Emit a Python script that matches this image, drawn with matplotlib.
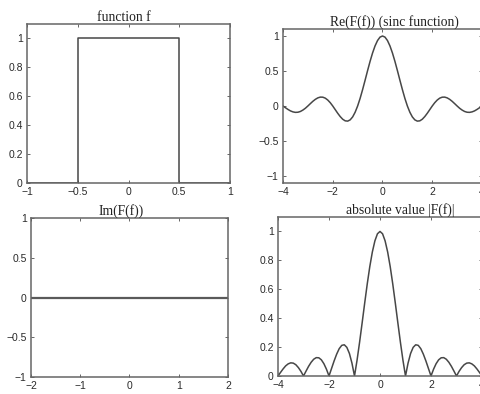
import numpy as np
import matplotlib.pyplot as plt

# rectangle function f
rect_x = [-1, -0.5, -0.5, 0.5, 0.5, 1]
rect_y = [0, 0, 1, 1, 0, 0]

# Re(F(f)), read at steps of 0.1 from -4 to 4
half = [1.000, 0.984, 0.935, 0.858, 0.757, 0.637, 0.505, 0.368, 0.234, 0.109,
        0.000, -0.089, -0.156, -0.198, -0.216, -0.212, -0.189, -0.151, -0.104, -0.052,
        0.000, 0.047, 0.085, 0.112, 0.126, 0.127, 0.116, 0.095, 0.067, 0.034,
        0.000, -0.032, -0.058, -0.078, -0.089, -0.091, -0.084, -0.070, -0.049, -0.025,
        0.000]
re_vals = half[:0:-1] + half
re_x = np.linspace(-4, 4, len(re_vals))

# Im(F(f))
im_x = [-2, 2]
im_y = [0, 0]

abs_vals = np.abs(re_vals)

fig = plt.figure(figsize=(4.81, 3.94), dpi=100)
W, H = 481.0, 394.0

def box(l, t, r, b):
    return [l / W, 1 - b / H, (r - l) / W, (b - t) / H]

line_c = '#474747'
edge_c = '#666666'

def style(ax, title, tx):
    t = ax.set_title(title, fontsize=9.8, family='Liberation Serif', pad=2, color='#222222')
    t.set_x(tx)
    ax.tick_params(direction='in', top=True, right=True, labelsize=7.5,
                   length=2.5, width=0.7, colors=edge_c, labelcolor='#2a2a2a', pad=3)
    for s in ax.spines.values():
        s.set_color(edge_c)
        s.set_linewidth(1.1)
    for lab in ax.get_xticklabels() + ax.get_yticklabels():
        lab.set_family('Liberation Sans')

ax1 = fig.add_axes(box(27, 24, 230, 183))
ax1.plot(rect_x, rect_y, color=line_c, lw=1.1)
ax1.set_xlim(-1, 1)
ax1.set_ylim(0, 1.1)
ax1.set_xticks([-1, -0.5, 0, 0.5, 1])
ax1.set_xticklabels(['\u22121', '\u22120.5', '0', '0.5', '1'])
ax1.set_yticks([0, 0.2, 0.4, 0.6, 0.8, 1])
ax1.set_yticklabels(['0', '0.2', '0.4', '0.6', '0.8', '1'])
style(ax1, 'function f', 0.475)

ax2 = fig.add_axes(box(283, 29, 482, 183))
ax2.plot(re_x, re_vals, color=line_c, lw=1.1)
ax2.set_xlim(-4, 4)
ax2.set_ylim(-1.1, 1.1)
ax2.set_xticks([-4, -2, 0, 2, 4])
ax2.set_xticklabels(['\u22124', '\u22122', '0', '2', '4'])
ax2.set_yticks([-1, -0.5, 0, 0.5, 1])
ax2.set_yticklabels(['\u22121', '\u22120.5', '0', '0.5', '1'])
style(ax2, 'Re(F(f)) (sinc function)', 0.56)

ax3 = fig.add_axes(box(31, 218, 228, 377))
ax3.plot(im_x, im_y, color='#5a5a5a', lw=1.6)
ax3.set_xlim(-2, 2)
ax3.set_ylim(-1, 1)
ax3.set_xticks([-2, -1, 0, 1, 2])
ax3.set_xticklabels(['\u22122', '\u22121', '0', '1', '2'])
ax3.set_yticks([-1, -0.5, 0, 0.5, 1])
ax3.set_yticklabels(['\u22121', '\u22120.5', '0', '0.5', '1'])
style(ax3, 'Im(F(f))', 0.46)

ax4 = fig.add_axes(box(278, 217, 482, 376))
ax4.plot(re_x, abs_vals, color=line_c, lw=1.1)
ax4.set_xlim(-4, 4)
ax4.set_ylim(0, 1.1)
ax4.set_xticks([-4, -2, 0, 2, 4])
ax4.set_xticklabels(['\u22124', '\u22122', '0', '2', '4'])
ax4.set_yticks([0, 0.2, 0.4, 0.6, 0.8, 1])
ax4.set_yticklabels(['0', '0.2', '0.4', '0.6', '0.8', '1'])
style(ax4, 'absolute value |F(f)|', 0.6)

fig.savefig('out.png', dpi=100)
